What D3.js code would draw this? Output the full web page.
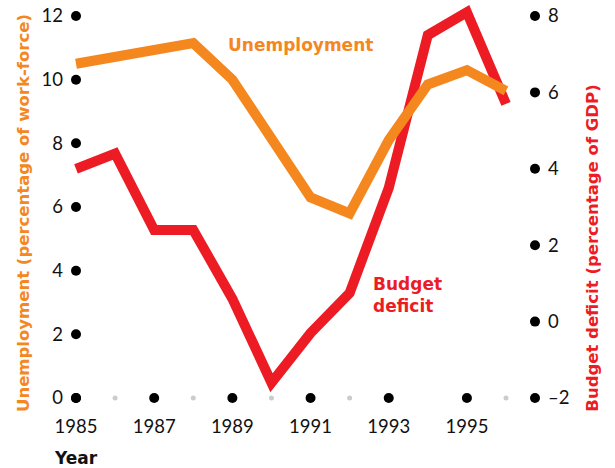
<!DOCTYPE html>
<html>
<head>
<meta charset="utf-8">
<script src="https://cdn.jsdelivr.net/npm/d3@7"></script>
<style>
  html, body { margin: 0; padding: 0; background: #fff; }
  svg { display: block; }
  .tick-label { font-family: Lato, "Open Sans", sans-serif; font-weight: 400; font-size: 18.5px; fill: #111; }
  .title { font-family: "DejaVu Sans", sans-serif; font-weight: 700; font-size: 17px; }
  .axis-title { font-size: 16.5px; }
</style>
</head>
<body>
<svg id="chart" width="615" height="468"></svg>
<script>
// Unemployment, percentage of work-force (left axis)
const unemploymentYears = [1985, 1988, 1989, 1991, 1992, 1993, 1994, 1995, 1996];
const unemploymentValues = [10.5, 11.15, 10.0, 6.3, 5.8, 8.1, 9.85, 10.3, 9.65];

// Budget deficit, percentage of GDP (right axis)
const deficitYears = [1985, 1986, 1987, 1988, 1989, 1990, 1991, 1992, 1993, 1994, 1995, 1996];
const deficitValues = [4.0, 4.4, 2.4, 2.4, 0.6, -1.6, -0.3, 0.75, 3.5, 7.5, 8.1, 5.7];

// Axis ticks
const leftTicks = [0, 2, 4, 6, 8, 10, 12];
const rightTicks = [-2, 0, 2, 4, 6, 8];
const labelledYears = [1985, 1987, 1989, 1991, 1993, 1995];
const minorYears = [1986, 1988, 1990, 1992, 1996];

const ORANGE = "#F5871F";
const RED = "#ED1C24";

const svg = d3.select("#chart");

const x = d3.scaleLinear().domain([1985, 1996]).range([76, 506]);
const yLeft = d3.scaleLinear().domain([0, 12]).range([398, 16]);
const yRight = d3.scaleLinear().domain([-2, 8]).range([398, 16]);
const rightAxisX = 535;

// Left axis: dot markers and labels
const gl = svg.append("g");
gl.selectAll("circle").data(leftTicks).join("circle")
  .attr("cx", x(1985)).attr("cy", d => yLeft(d)).attr("r", 5).attr("fill", "#000");
gl.selectAll("text").data(leftTicks).join("text")
  .attr("class", "tick-label")
  .attr("x", 63).attr("y", d => yLeft(d)).attr("dy", "0.35em")
  .attr("text-anchor", "end").text(d => d);

// Right axis
const gr = svg.append("g");
gr.selectAll("circle").data(rightTicks).join("circle")
  .attr("cx", rightAxisX).attr("cy", d => yRight(d)).attr("r", 5).attr("fill", "#000");
gr.selectAll("text").data(rightTicks).join("text")
  .attr("class", "tick-label")
  .attr("x", 548).attr("y", d => yRight(d)).attr("dy", "0.35em")
  .attr("text-anchor", "start").text(d => d < 0 ? "\u2013" + Math.abs(d) : d);

// Bottom axis
const gb = svg.append("g");
gb.selectAll("circle.major").data(labelledYears).join("circle")
  .attr("class", "major")
  .attr("cx", d => x(d)).attr("cy", yLeft(0)).attr("r", 5).attr("fill", "#000");
gb.selectAll("circle.minor").data(minorYears).join("circle")
  .attr("class", "minor")
  .attr("cx", d => x(d)).attr("cy", yLeft(0)).attr("r", 2.5).attr("fill", "#ccc");
gb.selectAll("text").data(labelledYears).join("text")
  .attr("class", "tick-label")
  .attr("x", d => x(d)).attr("y", 427).attr("dy", "0.35em")
  .attr("text-anchor", "middle").text(d => d);

svg.append("text").attr("class", "title")
  .attr("x", 55).attr("y", 458).attr("dy", "0.35em")
  .attr("fill", "#111").text("Year");

// Axis titles
svg.append("text").attr("class", "title axis-title")
  .attr("transform", "translate(23,213) rotate(-90)")
  .attr("text-anchor", "middle").attr("dy", "0.35em")
  .attr("fill", ORANGE).text("Unemployment (percentage of work-force)");

svg.append("text").attr("class", "title axis-title")
  .attr("transform", "translate(592,248) rotate(-90)")
  .attr("text-anchor", "middle").attr("dy", "0.35em")
  .attr("fill", RED).text("Budget deficit (percentage of GDP)");

// Lines
const deficitLine = d3.line()
  .x((d, i) => x(deficitYears[i]))
  .y(d => yRight(d));
const unemploymentLine = d3.line()
  .x((d, i) => x(unemploymentYears[i]))
  .y(d => yLeft(d));

svg.append("path").datum(deficitValues)
  .attr("d", deficitLine)
  .attr("fill", "none").attr("stroke", RED).attr("stroke-width", 10)
  .attr("stroke-linejoin", "miter").attr("stroke-linecap", "butt");

svg.append("path").datum(unemploymentValues)
  .attr("d", unemploymentLine)
  .attr("fill", "none").attr("stroke", ORANGE).attr("stroke-width", 10)
  .attr("stroke-linejoin", "miter").attr("stroke-linecap", "butt");

// Series labels
svg.append("text").attr("class", "title")
  .attr("x", 228).attr("y", 45).attr("dy", "0.35em")
  .attr("fill", ORANGE).text("Unemployment");

const budgetLabel = svg.append("text").attr("class", "title").attr("fill", RED);
budgetLabel.append("tspan").attr("x", 373).attr("y", 284).attr("dy", "0.35em").text("Budget");
budgetLabel.append("tspan").attr("x", 373).attr("y", 306).attr("dy", "0.35em").text("deficit");
</script>
</body>
</html>
